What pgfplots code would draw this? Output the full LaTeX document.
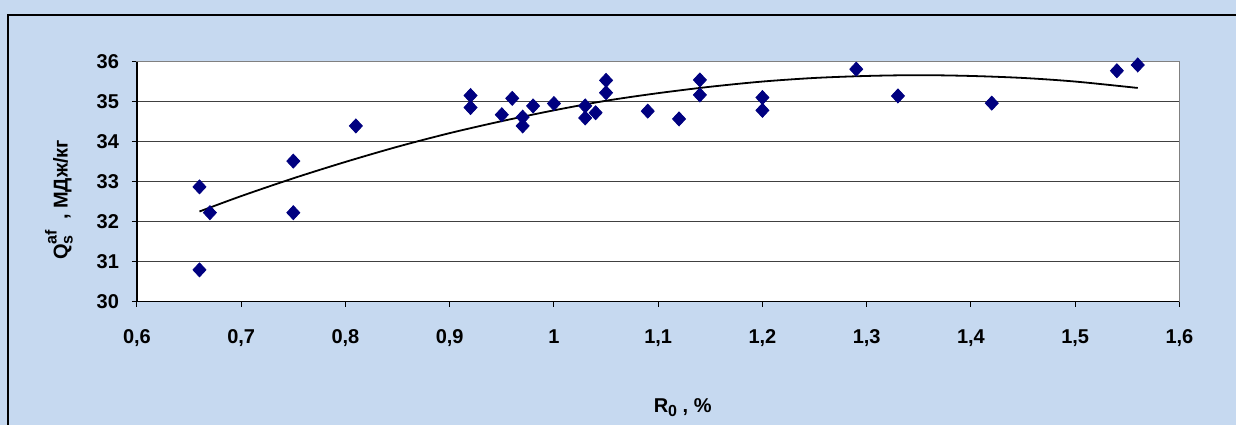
\documentclass[border=0pt]{standalone}
\usepackage{fontspec}
\setmainfont{Liberation Sans}
\usepackage{pgfplots}
\pgfplotsset{compat=1.18}
\definecolor{bgblue}{HTML}{C6D9F0}
\definecolor{navy}{HTML}{000080}
\newcommand{\lab}{\bfseries\fontsize{10}{11}\selectfont}
\newcommand{\sml}{\fontsize{8}{8}\selectfont}
\begin{document}
\begin{tikzpicture}
\fill[bgblue] (0,0) rectangle (618.5pt,212.5pt);
\draw[black, line width=0.6pt] (4pt,0) -- (4pt,205pt) -- (618.5pt,205pt);
\begin{axis}[
  at={(68.5pt,61.5pt)}, anchor=south west,
  scale only axis, width=521.5pt, height=120pt,
  xmin=0.6, xmax=1.6, ymin=30, ymax=36,
  xtick={0.6,0.7,0.8,0.9,1,1.1,1.2,1.3,1.4,1.5,1.6},
  ytick={30,31,32,33,34,35,36},
  /pgf/number format/.cd, use comma, assume math mode=true, fixed, precision=1,
  /pgfplots/.cd,
  ticklabel style={font=\lab},
  tick align=outside, major tick length=2.5pt,
  tick style={black, line width=0.5pt},
  xtick pos=bottom, ytick pos=left,
  ymajorgrids, grid style={black!75, line width=0.5pt},
  axis line style={gray, line width=0.5pt},
  axis background/.style={fill=white},
  xticklabel style={yshift=-8pt},
  yticklabel style={xshift=-3pt},
  clip=false,
]
\addplot[only marks, mark=diamond*, color=navy, mark size=3.5pt, mark options={xscale=1.24}] coordinates {
(0.66,32.875) (0.66,30.8) (0.67,32.23) (0.75,33.52) (0.75,32.23) (0.81,34.4)
(0.92,35.16) (0.92,34.86) (0.95,34.68) (0.96,35.09) (0.97,34.62) (0.97,34.4)
(0.98,34.9) (1.0,34.96) (1.03,34.9) (1.03,34.6) (1.04,34.73) (1.05,35.54)
(1.05,35.23) (1.09,34.77) (1.12,34.575) (1.14,35.55) (1.14,35.175)
(1.2,35.11) (1.2,34.79) (1.29,35.82) (1.33,35.15) (1.42,34.97)
(1.54,35.78) (1.56,35.925)
};
\addplot[black, line width=0.9pt, smooth] coordinates {
(0.66,32.26) (0.70,32.645) (0.75,33.09) (0.80,33.50) (0.85,33.88) (0.90,34.22)
(0.95,34.52) (1.00,34.79) (1.05,35.03) (1.10,35.22) (1.15,35.38) (1.20,35.51)
(1.25,35.60) (1.30,35.65) (1.35,35.67) (1.40,35.65) (1.45,35.60) (1.50,35.51)
(1.56,35.35)
};
\draw[black, line width=0.6pt] (rel axis cs:0,1) -- (rel axis cs:0,0) -- (rel axis cs:1,0);
\end{axis}
\node[rotate=90, font=\lab] at (29.5pt,112.5pt) {Q\makebox[0pt][l]{\raisebox{5.5pt}{\sml af}}\raisebox{-2.5pt}{\sml s}\hspace{5pt} , МДж/кг};
\node[font=\lab] at (341.5pt,8.5pt) {R\raisebox{-2pt}{\sml 0} , \%};
\end{tikzpicture}
\end{document}
